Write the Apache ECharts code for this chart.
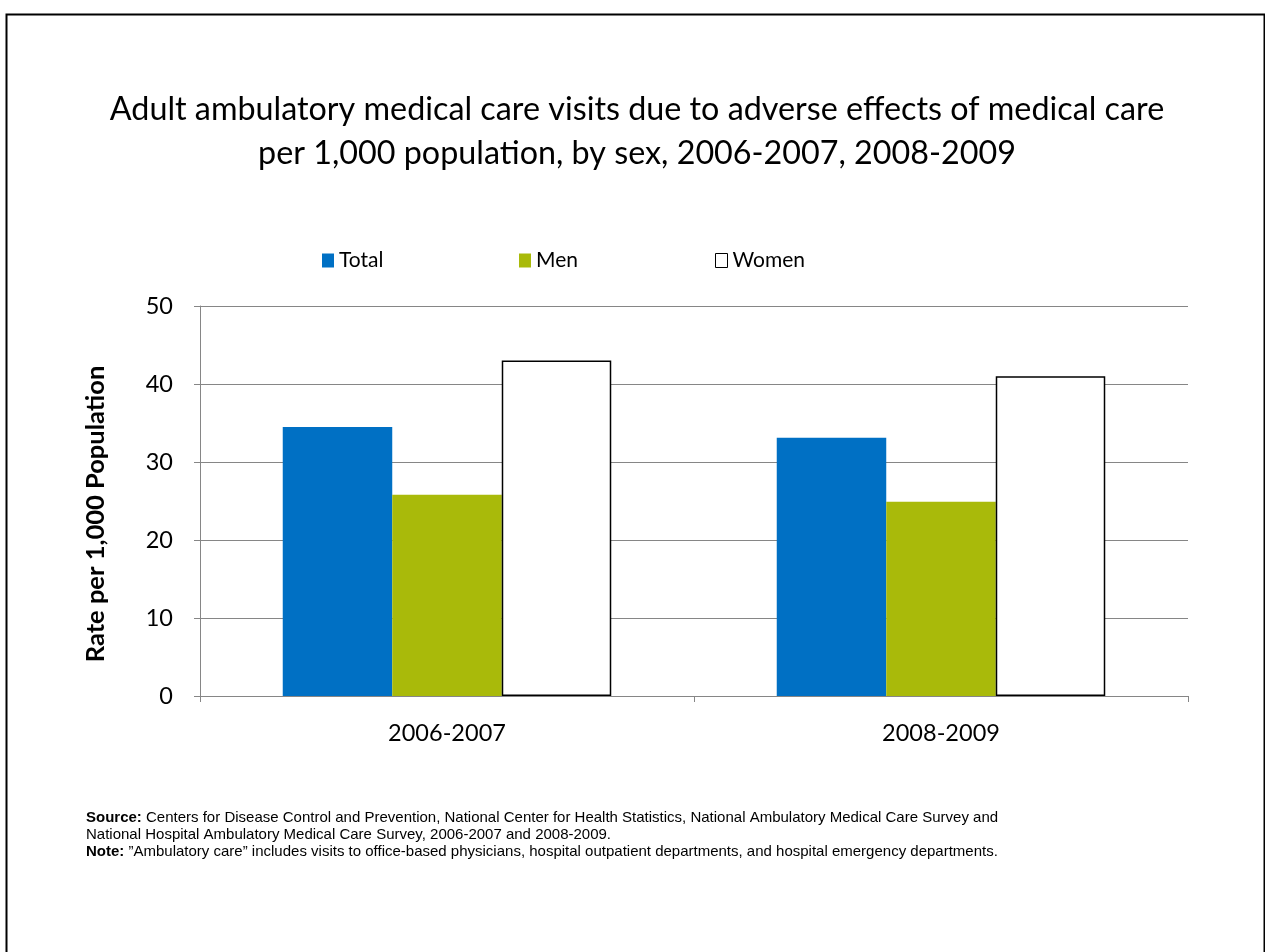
<!DOCTYPE html>
<html>
<head>
<meta charset="utf-8">
<script src="https://cdn.jsdelivr.net/npm/echarts@6/dist/echarts.min.js"></script>
<style>
html,body{margin:0;padding:0;background:#fff;}
#chart{width:1265px;height:952px;}
</style>
</head>
<body>
<div id="chart"></div>
<script>
var categories = ['2006-2007', '2008-2009'];
var totalValues = [34.5, 33.1];
var menValues = [25.8, 24.9];
var womenValues = [43.0, 41.0];
var yTicks = [0, 10, 20, 30, 40, 50];

var chart = echarts.init(document.getElementById('chart'));
var baseFont = 'Lato, Calibri, "Open Sans", sans-serif';
var legendText = { fontFamily: baseFont, fontSize: 21, color: '#000' };
var option = {
  animation: false,
  backgroundColor: '#fff',
  legend: [
    { data: [{ name: 'Total', icon: 'rect' }], left: 317, top: 245, itemWidth: 12, itemHeight: 14, itemGap: 5, textStyle: legendText },
    { data: [{ name: 'Men', icon: 'rect' }], left: 514, top: 245, itemWidth: 12, itemHeight: 14, itemGap: 5, textStyle: legendText },
    { data: [{ name: 'Women', icon: 'rect', itemStyle: { borderWidth: 1, borderColor: '#000' } }], left: 710, top: 245, itemWidth: 12, itemHeight: 14, itemGap: 5, textStyle: legendText }
  ],
  grid: { left: 200, right: 77, top: 306, bottom: 256, containLabel: false },
  xAxis: {
    type: 'category',
    data: categories,
    axisLine: { lineStyle: { color: '#868686', width: 1 } },
    axisTick: { show: true, length: 6, inside: false, lineStyle: { color: '#868686' } },
    axisLabel: { fontFamily: baseFont, fontSize: 23.5, color: '#000', margin: 25 }
  },
  yAxis: {
    type: 'value',
    min: 0, max: 50, interval: 10,
    axisLine: { show: true, lineStyle: { color: '#868686', width: 1 } },
    axisTick: { show: true, length: 6, lineStyle: { color: '#868686' } },
    splitLine: { lineStyle: { color: '#868686', width: 1 } },
    axisLabel: { fontFamily: baseFont, fontSize: 23.5, color: '#000', margin: 27,
      formatter: function (v) { return yTicks.indexOf(v) >= 0 ? String(v) : ''; } }
  },
  series: [
    { name: 'Total', type: 'bar', data: totalValues, barGap: '0%', barCategoryGap: '33.5%',
      itemStyle: { color: '#0070C4' } },
    { name: 'Men', type: 'bar', data: menValues, barGap: '0%', barCategoryGap: '33.5%',
      itemStyle: { color: '#A9BA0A' } },
    { name: 'Women', type: 'bar', data: womenValues, barGap: '0%', barCategoryGap: '33.5%',
      itemStyle: { color: '#ffffff', borderColor: '#000', borderWidth: 1.5 } }
  ],
  graphic: [
    { type: 'rect', left: 4, top: 12, shape: { width: 1258, height: 960 }, silent: true,
      style: { fill: 'none', stroke: '#000', lineWidth: 2 }, z: 100 },
    { type: 'text', x: 637, y: 132, silent: true,
      style: { text: 'Adult ambulatory medical care visits due to adverse effects of medical care\nper 1,000 population, by sex, 2006-2007, 2008-2009',
        fontFamily: baseFont, fontSize: 32.3, lineHeight: 44, fill: '#000', align: 'center', verticalAlign: 'middle' } },
    { type: 'text', x: 96, y: 514, rotation: Math.PI / 2, silent: true,
      style: { text: 'Rate per 1,000 Population', fontFamily: baseFont, fontSize: 25.5, fontWeight: 'bold',
        fill: '#000', align: 'center', verticalAlign: 'middle' } },
    { type: 'text', left: 86, top: 809, silent: true,
      style: {
        text: '{b|Source:} Centers for Disease Control and Prevention, National Center for Health Statistics, National Ambulatory Medical Care Survey and\nNational Hospital Ambulatory Medical Care Survey, 2006-2007 and 2008-2009.\n{b|Note:} \u201DAmbulatory care\u201D includes visits to office-based physicians, hospital outpatient departments, and hospital emergency departments.',
        fontFamily: '"Liberation Sans", Arial, sans-serif', fontSize: 15, lineHeight: 17, fill: '#000',
        rich: { b: { fontWeight: 'bold', fontFamily: '"Liberation Sans", Arial, sans-serif', fontSize: 15, lineHeight: 17 } }
      } }
  ]
};
chart.setOption(option);
</script>
</body>
</html>
